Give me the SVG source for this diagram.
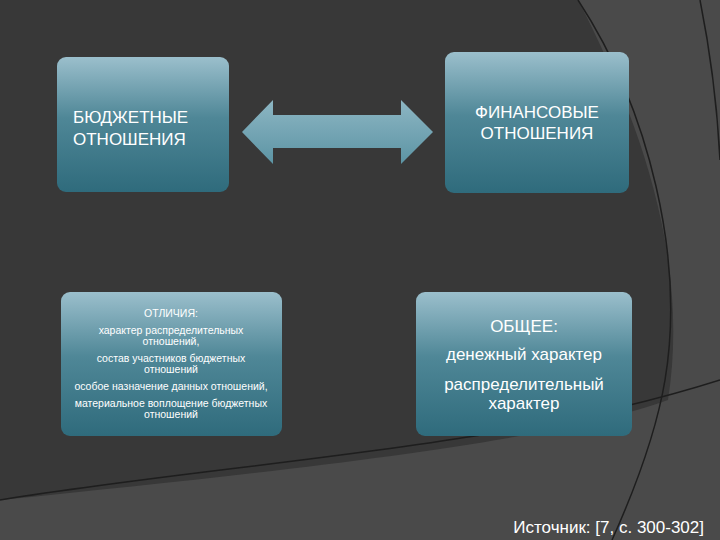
<svg xmlns="http://www.w3.org/2000/svg" width="720" height="540" viewBox="0 0 720 540">
<defs>
<linearGradient id="g" x1="0" y1="0" x2="0" y2="1">
<stop offset="0" stop-color="#9bbfcc"/><stop offset="0.45" stop-color="#4f8797"/><stop offset="1" stop-color="#2f6b7c"/>
</linearGradient>
<linearGradient id="ga" x1="0" y1="0" x2="0" y2="1">
<stop offset="0" stop-color="#8db6c3"/><stop offset="1" stop-color="#5c94a4"/>
</linearGradient>
<style>
.t{font-family:"Liberation Sans",Arial,sans-serif;fill:#fff;text-anchor:middle}
.arc{fill:none;stroke:#1e1e1e;stroke-width:1.5}
</style>
</defs>
<rect width="720" height="540" fill="#4a4a4a"/>
<path d="M0 0 H578 C640 120 690 260 668 400 C560 440 300 470 0 500 Z" fill="#383838"/>
<path class="arc" d="M0 500 C250 460 500 450 720 380"/>
<path class="arc" d="M578 0 C650 110 685 260 665 380 C655 440 630 500 612 540"/>
<path class="arc" d="M700 0 C712 60 718 120 720 160"/>
<g id="connectors">
<path d="M242 132 L273 100 V115 H401 V100 L433 132 L401 164 V148 H273 V164 Z" fill="url(#ga)"/>
</g>
<g id="n1">
<rect x="57" y="57" width="172" height="135" rx="9" fill="url(#g)"/>
<text class="t" font-size="17" style="text-anchor:start"><tspan x="73" y="123">БЮДЖЕТНЫЕ</tspan><tspan x="73" y="145">ОТНОШЕНИЯ</tspan></text>
</g>
<g id="n2">
<rect x="445" y="52" width="184" height="141" rx="9" fill="url(#g)"/>
<text class="t" font-size="17"><tspan x="537" y="118">ФИНАНСОВЫЕ</tspan><tspan x="537" y="139">ОТНОШЕНИЯ</tspan></text>
</g>
<g id="n3">
<rect x="61" y="292" width="221" height="144" rx="9" fill="url(#g)"/>
<text class="t" font-size="10.5"><tspan x="171" y="317">ОТЛИЧИЯ:</tspan><tspan x="171" y="334">характер распределительных</tspan><tspan x="171" y="345">отношений,</tspan><tspan x="171" y="362">состав участников бюджетных</tspan><tspan x="171" y="373">отношений</tspan><tspan x="171" y="390">особое назначение данных отношений,</tspan><tspan x="171" y="407">материальное воплощение бюджетных</tspan><tspan x="171" y="418">отношений</tspan></text>
</g>
<g id="n4">
<rect x="416" y="292" width="216" height="144" rx="9" fill="url(#g)"/>
<text class="t" font-size="17"><tspan x="524" y="332">ОБЩЕЕ:</tspan><tspan x="524" y="360">денежный характер</tspan><tspan x="524" y="390">распределительный</tspan><tspan x="524" y="409">характер</tspan></text>
</g>
<text x="704" y="533" font-family="Liberation Sans,Arial,sans-serif" font-size="17" fill="#fff" text-anchor="end">Источник: [7, с. 300-302]</text>
</svg>
